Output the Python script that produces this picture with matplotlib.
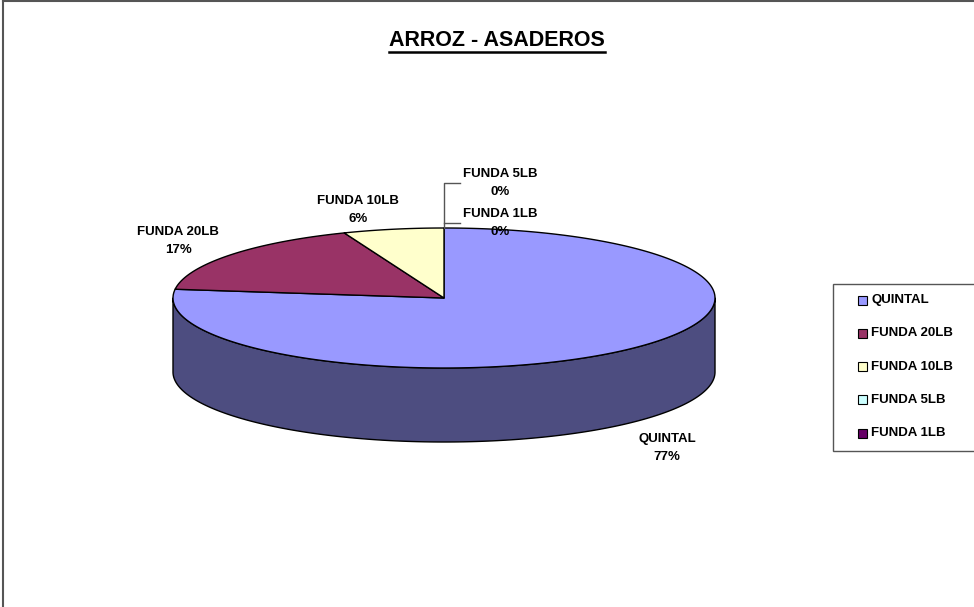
import numpy as np
import matplotlib
matplotlib.use("Agg")
import matplotlib.pyplot as plt
from matplotlib.patches import Polygon, Rectangle

plt.rcParams["font.family"] = ["Liberation Sans", "DejaVu Sans"]

# data
title = "ARROZ - ASADEROS"
categories = ["QUINTAL", "FUNDA 20LB", "FUNDA 10LB", "FUNDA 5LB", "FUNDA 1LB"]
percents = [77, 17, 6, 0, 0]
top_colors = ["#9999FF", "#993366", "#FFFFCC", "#CCFFFF", "#660066"]
side_colors = ["#4D4D80", "#4D1A33", "#808066", "#668080", "#330033"]

# layout (pixels)
W, H = 974, 607
cx, cy, rx, ry, depth = 444, 298, 271, 70, 74
label_pos = {
    "QUINTAL": (667, 448),
    "FUNDA 20LB": (178, 241),
    "FUNDA 10LB": (358, 210),
    "FUNDA 5LB": (500, 183),
    "FUNDA 1LB": (500, 223),
}

fig = plt.figure(figsize=(W / 100, H / 100), dpi=100)
ax = fig.add_axes([0, 0, 1, 1])
ax.set_xlim(0, W)
ax.set_ylim(H, 0)
ax.axis("off")


def ell(t, dz=0.0):
    t = np.radians(t)
    return cx + rx * np.sin(t), cy - ry * np.cos(t) + dz


vals = np.array(percents, dtype=float)
angles = np.concatenate([[0], np.cumsum(vals / vals.sum() * 360)])

# side wall (front half only: 90..270 deg)
for i in range(len(vals)):
    a0, a1 = max(angles[i], 90), min(angles[i + 1], 270)
    if a1 <= a0:
        continue
    t = np.linspace(a0, a1, 200)
    xt, yt = ell(t)
    xb, yb = ell(t[::-1], depth)
    pts = np.column_stack([np.r_[xt, xb], np.r_[yt, yb]])
    ax.add_patch(Polygon(pts, closed=True, fc=side_colors[i], ec="black", lw=1.0, joinstyle="round"))

# top face wedges
for i in range(len(vals)):
    a0, a1 = angles[i], angles[i + 1]
    if a1 - a0 <= 0:
        continue
    t = np.linspace(a0, a1, 300)
    xt, yt = ell(t)
    pts = np.column_stack([np.r_[cx, xt], np.r_[cy, yt]])
    ax.add_patch(Polygon(pts, closed=True, fc=top_colors[i], ec="black", lw=1.0, joinstyle="round"))

# data labels
fs = 9.5
for name, p in zip(categories, percents):
    x, y = label_pos[name]
    ax.text(x, y, f"{name}\n{p:.0f}%", ha="center", va="center", fontsize=fs,
            fontweight="bold", linespacing=1.6)

# leader lines for the zero slices
tx, ty = ell(0)
lead_col = "#555555"
ax.plot([tx, tx, 460], [ty, label_pos["FUNDA 5LB"][1], label_pos["FUNDA 5LB"][1]], color=lead_col, lw=1)
ax.plot([tx, 460], [label_pos["FUNDA 1LB"][1], label_pos["FUNDA 1LB"][1]], color=lead_col, lw=1)

# title with underline
t = ax.text(497, 40, title, ha="center", va="center", fontsize=15.5, fontweight="bold")
fig.canvas.draw()
bb = t.get_window_extent(renderer=fig.canvas.get_renderer())
ax.plot([bb.x0, bb.x1], [H - bb.y0 + 1, H - bb.y0 + 1], color="black", lw=1.8)

# legend
ax.add_patch(Rectangle((833, 284), 150, 167, fc="white", ec="#555555", lw=1))
for i, name in enumerate(categories):
    yy = 300 + 33.3 * i
    ax.add_patch(Rectangle((858, yy - 4.5), 9, 9, fc=top_colors[i], ec="black", lw=0.8))
    ax.text(871, yy, name, ha="left", va="center", fontsize=fs, fontweight="bold")

# chart frame
ax.plot([3, 3], [H, 1], color="#555555", lw=1.5)
ax.plot([3, W], [1, 1], color="#555555", lw=1.5)

fig.savefig("out.png", dpi=100)
